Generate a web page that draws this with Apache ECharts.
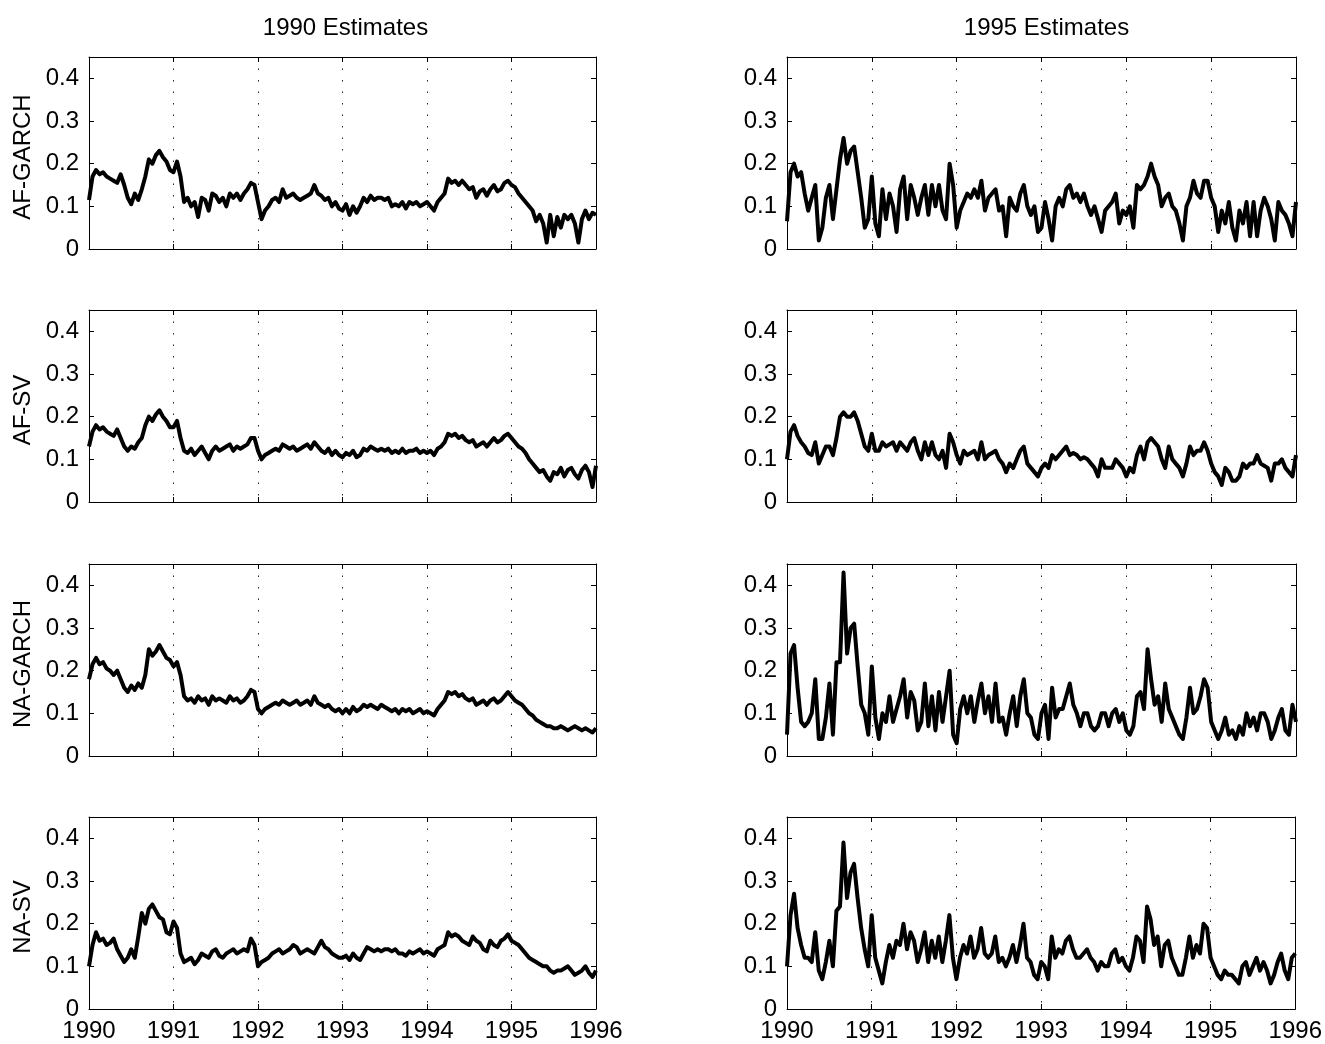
<!DOCTYPE html>
<html>
<head>
<meta charset="utf-8">
<script src="https://cdn.jsdelivr.net/npm/echarts@6/dist/echarts.min.js"></script>
<style>
    html, body { margin: 0; padding: 0; background: #fff; }
    #chart { width: 1325px; height: 1044px; }
</style>
</head>
<body>
<div id="chart"></div>
<script>
// sampling: twice a month, 1990.0 -> 1996.0
var startYear = 1990
var stepsPerYear = 24
var yearLabels = [1990, 1991, 1992, 1993, 1994, 1995, 1996]
var yTicks = [0, 0.1, 0.2, 0.3, 0.4]
var columnTitles = ['1990 Estimates', '1995 Estimates']
var rowNames = ['AF-GARCH', 'AF-SV', 'NA-GARCH', 'NA-SV']

// 1990 estimates (left column)
var afGarch1990 = [
    0.115, 0.17, 0.185, 0.175, 0.18, 0.17, 0.165, 0.16, 0.155, 0.175, 0.15, 0.12, 0.105, 0.13, 0.115, 0.14, 0.17, 0.21, 0.20, 0.22, 0.23, 0.215, 0.205, 0.185,
    0.18, 0.205, 0.17, 0.11, 0.12, 0.10, 0.11, 0.075, 0.12, 0.115, 0.09, 0.13, 0.125, 0.11, 0.12, 0.10, 0.13, 0.12, 0.13, 0.115, 0.13, 0.14, 0.155, 0.15,
    0.11, 0.07, 0.09, 0.10, 0.115, 0.12, 0.11, 0.14, 0.12, 0.125, 0.13, 0.12, 0.115, 0.12, 0.125, 0.13, 0.15, 0.13, 0.125, 0.115, 0.12, 0.10, 0.11, 0.095,
    0.09, 0.105, 0.08, 0.10, 0.085, 0.10, 0.12, 0.11, 0.125, 0.115, 0.12, 0.12, 0.115, 0.12, 0.10, 0.105, 0.10, 0.11, 0.095, 0.11, 0.105, 0.11, 0.10, 0.105,
    0.11, 0.10, 0.09, 0.11, 0.12, 0.13, 0.165, 0.155, 0.16, 0.15, 0.16, 0.15, 0.14, 0.145, 0.12, 0.135, 0.14, 0.125, 0.14, 0.15, 0.135, 0.14, 0.155, 0.16,
    0.15, 0.145, 0.13, 0.12, 0.11, 0.10, 0.09, 0.065, 0.08, 0.06, 0.015, 0.08, 0.03, 0.075, 0.05, 0.08, 0.07, 0.08, 0.06, 0.015, 0.07, 0.09, 0.07, 0.085,
    0.08
];
var afSv1990 = [
    0.13, 0.165, 0.18, 0.17, 0.175, 0.165, 0.16, 0.155, 0.17, 0.15, 0.13, 0.12, 0.13, 0.125, 0.14, 0.15, 0.18, 0.20, 0.19, 0.205, 0.215, 0.20, 0.19, 0.175,
    0.175, 0.19, 0.15, 0.12, 0.115, 0.125, 0.11, 0.12, 0.13, 0.115, 0.10, 0.12, 0.13, 0.12, 0.125, 0.13, 0.135, 0.12, 0.13, 0.125, 0.13, 0.135, 0.15, 0.15,
    0.12, 0.10, 0.11, 0.115, 0.12, 0.125, 0.12, 0.135, 0.13, 0.125, 0.13, 0.12, 0.125, 0.13, 0.135, 0.125, 0.14, 0.13, 0.12, 0.115, 0.125, 0.11, 0.12, 0.11,
    0.105, 0.115, 0.11, 0.12, 0.105, 0.11, 0.125, 0.12, 0.13, 0.125, 0.12, 0.125, 0.12, 0.125, 0.115, 0.12, 0.115, 0.125, 0.115, 0.12, 0.12, 0.125, 0.115, 0.12,
    0.115, 0.12, 0.11, 0.125, 0.13, 0.14, 0.16, 0.155, 0.16, 0.15, 0.155, 0.145, 0.14, 0.145, 0.13, 0.135, 0.14, 0.13, 0.14, 0.15, 0.14, 0.145, 0.155, 0.16,
    0.15, 0.14, 0.13, 0.125, 0.115, 0.10, 0.09, 0.08, 0.07, 0.075, 0.06, 0.05, 0.07, 0.065, 0.08, 0.06, 0.075, 0.08, 0.065, 0.055, 0.075, 0.085, 0.07, 0.035,
    0.085
];
var naGarch1990 = [
    0.18, 0.215, 0.23, 0.215, 0.22, 0.205, 0.20, 0.19, 0.20, 0.18, 0.16, 0.15, 0.165, 0.155, 0.17, 0.16, 0.19, 0.25, 0.235, 0.245, 0.26, 0.245, 0.23, 0.225,
    0.21, 0.22, 0.19, 0.14, 0.13, 0.135, 0.125, 0.14, 0.13, 0.135, 0.12, 0.14, 0.13, 0.135, 0.13, 0.125, 0.14, 0.13, 0.135, 0.125, 0.13, 0.14, 0.155, 0.15,
    0.11, 0.10, 0.11, 0.115, 0.12, 0.125, 0.12, 0.13, 0.125, 0.12, 0.125, 0.13, 0.12, 0.125, 0.13, 0.12, 0.14, 0.125, 0.12, 0.115, 0.12, 0.11, 0.105, 0.11,
    0.10, 0.11, 0.10, 0.115, 0.105, 0.11, 0.12, 0.115, 0.12, 0.115, 0.11, 0.12, 0.115, 0.11, 0.105, 0.11, 0.10, 0.11, 0.105, 0.11, 0.10, 0.105, 0.11, 0.10,
    0.105, 0.10, 0.095, 0.11, 0.12, 0.13, 0.15, 0.145, 0.15, 0.14, 0.145, 0.135, 0.13, 0.135, 0.12, 0.125, 0.13, 0.12, 0.13, 0.135, 0.125, 0.13, 0.14, 0.15,
    0.14, 0.13, 0.125, 0.12, 0.11, 0.10, 0.095, 0.085, 0.08, 0.075, 0.07, 0.07, 0.065, 0.065, 0.07, 0.065, 0.06, 0.065, 0.07, 0.065, 0.06, 0.065, 0.06, 0.055,
    0.065
];
var naSv1990 = [
    0.10, 0.15, 0.18, 0.16, 0.165, 0.15, 0.155, 0.165, 0.14, 0.125, 0.11, 0.12, 0.14, 0.12, 0.17, 0.225, 0.20, 0.235, 0.245, 0.23, 0.215, 0.21, 0.18, 0.175,
    0.205, 0.19, 0.13, 0.11, 0.115, 0.12, 0.105, 0.115, 0.13, 0.125, 0.12, 0.135, 0.14, 0.125, 0.12, 0.13, 0.135, 0.14, 0.13, 0.135, 0.14, 0.135, 0.165, 0.15,
    0.10, 0.11, 0.115, 0.12, 0.13, 0.135, 0.14, 0.13, 0.135, 0.14, 0.15, 0.145, 0.13, 0.135, 0.14, 0.135, 0.13, 0.145, 0.16, 0.145, 0.14, 0.13, 0.125, 0.12,
    0.12, 0.125, 0.115, 0.13, 0.12, 0.115, 0.13, 0.145, 0.14, 0.135, 0.14, 0.135, 0.14, 0.14, 0.135, 0.14, 0.13, 0.13, 0.125, 0.135, 0.13, 0.135, 0.14, 0.13,
    0.135, 0.13, 0.125, 0.14, 0.145, 0.15, 0.18, 0.17, 0.175, 0.17, 0.16, 0.155, 0.15, 0.17, 0.16, 0.155, 0.14, 0.135, 0.16, 0.15, 0.145, 0.16, 0.165, 0.175,
    0.16, 0.155, 0.15, 0.14, 0.13, 0.12, 0.115, 0.11, 0.105, 0.10, 0.10, 0.09, 0.085, 0.09, 0.09, 0.095, 0.10, 0.09, 0.08, 0.085, 0.09, 0.10, 0.085, 0.075,
    0.09
];

// 1995 estimates (right column)
var afGarch1995 = [
    0.065, 0.18, 0.20, 0.17, 0.18, 0.13, 0.09, 0.12, 0.15, 0.02, 0.05, 0.12, 0.15, 0.07, 0.14, 0.21, 0.26, 0.20, 0.23, 0.24, 0.18, 0.12, 0.05, 0.07,
    0.17, 0.06, 0.03, 0.14, 0.07, 0.13, 0.10, 0.04, 0.14, 0.17, 0.07, 0.15, 0.12, 0.08, 0.12, 0.15, 0.08, 0.15, 0.10, 0.15, 0.09, 0.07, 0.20, 0.15,
    0.05, 0.09, 0.11, 0.13, 0.12, 0.14, 0.12, 0.16, 0.09, 0.12, 0.13, 0.14, 0.09, 0.10, 0.03, 0.12, 0.10, 0.09, 0.13, 0.15, 0.10, 0.08, 0.10, 0.04,
    0.05, 0.11, 0.07, 0.02, 0.10, 0.12, 0.10, 0.14, 0.15, 0.12, 0.13, 0.11, 0.13, 0.10, 0.08, 0.10, 0.07, 0.04, 0.09, 0.10, 0.11, 0.13, 0.06, 0.09,
    0.08, 0.10, 0.05, 0.15, 0.14, 0.15, 0.17, 0.20, 0.17, 0.15, 0.10, 0.12, 0.13, 0.10, 0.09, 0.06, 0.02, 0.10, 0.12, 0.16, 0.13, 0.12, 0.16, 0.16,
    0.12, 0.10, 0.04, 0.09, 0.06, 0.11, 0.05, 0.02, 0.09, 0.06, 0.11, 0.03, 0.11, 0.03, 0.09, 0.12, 0.10, 0.07, 0.02, 0.11, 0.09, 0.08, 0.06, 0.03,
    0.11
];
var afSv1995 = [
    0.10, 0.165, 0.18, 0.155, 0.14, 0.13, 0.115, 0.11, 0.14, 0.09, 0.11, 0.13, 0.13, 0.11, 0.15, 0.20, 0.21, 0.20, 0.20, 0.21, 0.19, 0.16, 0.13, 0.12,
    0.16, 0.12, 0.12, 0.14, 0.13, 0.135, 0.14, 0.12, 0.14, 0.13, 0.12, 0.14, 0.15, 0.12, 0.10, 0.14, 0.11, 0.14, 0.11, 0.10, 0.12, 0.08, 0.16, 0.14,
    0.11, 0.09, 0.12, 0.11, 0.115, 0.12, 0.10, 0.14, 0.10, 0.11, 0.115, 0.12, 0.10, 0.09, 0.07, 0.09, 0.08, 0.10, 0.12, 0.13, 0.09, 0.08, 0.07, 0.06,
    0.08, 0.09, 0.08, 0.11, 0.10, 0.11, 0.12, 0.13, 0.11, 0.115, 0.11, 0.10, 0.105, 0.10, 0.09, 0.08, 0.06, 0.10, 0.08, 0.08, 0.08, 0.10, 0.09, 0.08,
    0.06, 0.08, 0.07, 0.11, 0.13, 0.10, 0.14, 0.15, 0.14, 0.13, 0.10, 0.08, 0.13, 0.10, 0.09, 0.08, 0.06, 0.09, 0.13, 0.11, 0.12, 0.12, 0.14, 0.12,
    0.09, 0.07, 0.06, 0.04, 0.08, 0.07, 0.05, 0.05, 0.06, 0.09, 0.08, 0.09, 0.09, 0.11, 0.09, 0.085, 0.08, 0.05, 0.09, 0.09, 0.10, 0.08, 0.07, 0.06,
    0.11
];
var naGarch1995 = [
    0.05, 0.24, 0.26, 0.16, 0.08, 0.07, 0.08, 0.10, 0.18, 0.04, 0.04, 0.09, 0.17, 0.05, 0.22, 0.22, 0.43, 0.24, 0.30, 0.31, 0.21, 0.12, 0.10, 0.05,
    0.21, 0.09, 0.04, 0.10, 0.08, 0.14, 0.08, 0.11, 0.14, 0.18, 0.09, 0.15, 0.13, 0.06, 0.08, 0.17, 0.07, 0.14, 0.06, 0.15, 0.08, 0.14, 0.20, 0.05,
    0.03, 0.11, 0.14, 0.10, 0.14, 0.08, 0.13, 0.17, 0.10, 0.14, 0.08, 0.17, 0.08, 0.09, 0.05, 0.10, 0.14, 0.07, 0.14, 0.18, 0.10, 0.09, 0.05, 0.04,
    0.10, 0.12, 0.04, 0.16, 0.09, 0.11, 0.11, 0.14, 0.17, 0.12, 0.10, 0.07, 0.10, 0.10, 0.07, 0.06, 0.07, 0.10, 0.10, 0.07, 0.10, 0.11, 0.08, 0.10,
    0.06, 0.05, 0.07, 0.14, 0.15, 0.11, 0.25, 0.18, 0.12, 0.14, 0.08, 0.17, 0.11, 0.09, 0.07, 0.05, 0.04, 0.09, 0.16, 0.10, 0.11, 0.14, 0.18, 0.16,
    0.08, 0.06, 0.04, 0.06, 0.09, 0.05, 0.06, 0.04, 0.07, 0.05, 0.10, 0.07, 0.09, 0.06, 0.10, 0.10, 0.08, 0.04, 0.06, 0.09, 0.11, 0.06, 0.05, 0.12,
    0.08
];
var naSv1995 = [
    0.10, 0.22, 0.27, 0.19, 0.15, 0.12, 0.12, 0.11, 0.18, 0.09, 0.07, 0.11, 0.16, 0.10, 0.23, 0.24, 0.39, 0.26, 0.32, 0.34, 0.26, 0.19, 0.14, 0.10,
    0.22, 0.12, 0.09, 0.06, 0.11, 0.15, 0.12, 0.16, 0.15, 0.20, 0.14, 0.18, 0.16, 0.11, 0.14, 0.18, 0.11, 0.16, 0.12, 0.17, 0.11, 0.16, 0.22, 0.12,
    0.07, 0.12, 0.15, 0.13, 0.17, 0.12, 0.14, 0.19, 0.13, 0.12, 0.13, 0.17, 0.11, 0.12, 0.10, 0.12, 0.15, 0.11, 0.15, 0.20, 0.12, 0.11, 0.08, 0.07,
    0.11, 0.10, 0.07, 0.17, 0.12, 0.14, 0.13, 0.16, 0.17, 0.14, 0.12, 0.12, 0.13, 0.14, 0.12, 0.11, 0.09, 0.11, 0.10, 0.10, 0.13, 0.14, 0.11, 0.12,
    0.10, 0.09, 0.12, 0.17, 0.16, 0.11, 0.24, 0.21, 0.15, 0.17, 0.10, 0.15, 0.16, 0.12, 0.10, 0.08, 0.08, 0.12, 0.17, 0.12, 0.15, 0.13, 0.20, 0.19,
    0.12, 0.10, 0.08, 0.07, 0.09, 0.08, 0.08, 0.07, 0.06, 0.10, 0.11, 0.08, 0.10, 0.12, 0.09, 0.11, 0.09, 0.06, 0.08, 0.11, 0.13, 0.09, 0.07, 0.12,
    0.13
];

var panelData = [
    [afGarch1990, afGarch1995],
    [afSv1990, afSv1995],
    [naGarch1990, naGarch1995],
    [naSv1990, naSv1995]
];

(function () {
    var myChart = echarts.init(document.getElementById('chart'))
    var font = '"Liberation Sans", Arial, Helvetica, sans-serif'
    var fontSize = 24

    // panel placement (pixels)
    var colLeft = [89, 787]
    var colWidth = [507, 509]
    var rowTop = [57, 310, 564, 817]
    var rowHeight = 192

    var grids = [], xAxes = [], yAxes = [], series = []

    function toPairs(values) {
        var out = []
        for (var i = 0; i < values.length; i++) {
            out.push([startYear + i / stepsPerYear, values[i]])
        }
        return out
    }

    for (var r = 0; r < 4; r++) {
        for (var c = 0; c < 2; c++) {
            var k = r * 2 + c
            grids.push({ left: colLeft[c], top: rowTop[r], width: colWidth[c], height: rowHeight })

            // bottom axis with dotted year grid
            xAxes.push({
                type: 'value', gridIndex: k, position: 'bottom',
                min: yearLabels[0], max: yearLabels[yearLabels.length - 1], interval: 1,
                axisLine: { show: true, onZero: false, lineStyle: { color: '#000', width: 1 } },
                axisTick: { show: true, inside: true, length: 5, lineStyle: { color: '#000' } },
                axisLabel: {
                    show: r === 3, color: '#000', fontSize: fontSize, fontFamily: font, margin: 10,
                    formatter: function (v) { return String(Math.round(v)) }
                },
                splitLine: { show: true, lineStyle: { color: '#222', width: 1, type: [1.5, 10] } }
            })
            // top axis = box edge
            xAxes.push({
                type: 'value', gridIndex: k, position: 'top',
                min: yearLabels[0], max: yearLabels[yearLabels.length - 1], interval: 1,
                axisLine: { show: true, onZero: false, lineStyle: { color: '#000', width: 1 } },
                axisTick: { show: true, inside: true, length: 5, lineStyle: { color: '#000' } },
                axisLabel: { show: false },
                splitLine: { show: false }
            })

            yAxes.push({
                type: 'value', gridIndex: k, position: 'left',
                min: 0, max: 0.45, interval: 0.1,
                name: c === 0 ? rowNames[r] : '',
                nameLocation: 'middle', nameGap: 54,
                nameTextStyle: { color: '#000', fontSize: fontSize, fontFamily: font, padding: [0, 8, 0, 0] },
                axisLine: { show: true, onZero: false, lineStyle: { color: '#000', width: 1 } },
                axisTick: { show: true, inside: true, length: 5, lineStyle: { color: '#000' } },
                axisLabel: {
                    color: '#000', fontSize: fontSize, fontFamily: font, margin: 10,
                    formatter: function (v) {
                        for (var t = 0; t < yTicks.length; t++) {
                            if (Math.abs(v - yTicks[t]) < 1e-6) return String(yTicks[t])
                        }
                        return ''
                    }
                },
                splitLine: { show: false }
            })
            yAxes.push({
                type: 'value', gridIndex: k, position: 'right',
                min: 0, max: 0.45, interval: 0.1,
                axisLine: { show: true, onZero: false, lineStyle: { color: '#000', width: 1 } },
                axisTick: { show: true, inside: true, length: 5, lineStyle: { color: '#000' } },
                axisLabel: { show: false },
                splitLine: { show: false }
            })

            series.push({
                type: 'line',
                xAxisIndex: k * 2,
                yAxisIndex: k * 2,
                data: toPairs(panelData[r][c]),
                showSymbol: false,
                symbol: 'none',
                lineStyle: { color: '#000', width: 4, join: 'round' },
                silent: true
            })
        }
    }

    var option = {
        animation: false,
        backgroundColor: '#fff',
        title: [
            {
                text: columnTitles[0], left: colLeft[0] + colWidth[0] / 2 - 2, top: 11, textAlign: 'center',
                textStyle: { color: '#000', fontSize: fontSize, fontWeight: 'normal', fontFamily: font }
            },
            {
                text: columnTitles[1], left: colLeft[1] + colWidth[1] / 2, top: 11, textAlign: 'center',
                textStyle: { color: '#000', fontSize: fontSize, fontWeight: 'normal', fontFamily: font }
            }
        ],
        grid: grids,
        xAxis: xAxes,
        yAxis: yAxes,
        series: series
    }

    myChart.setOption(option)
    window.addEventListener('resize', function () {
        myChart.resize()
    })
}());
</script>
</body>
</html>
